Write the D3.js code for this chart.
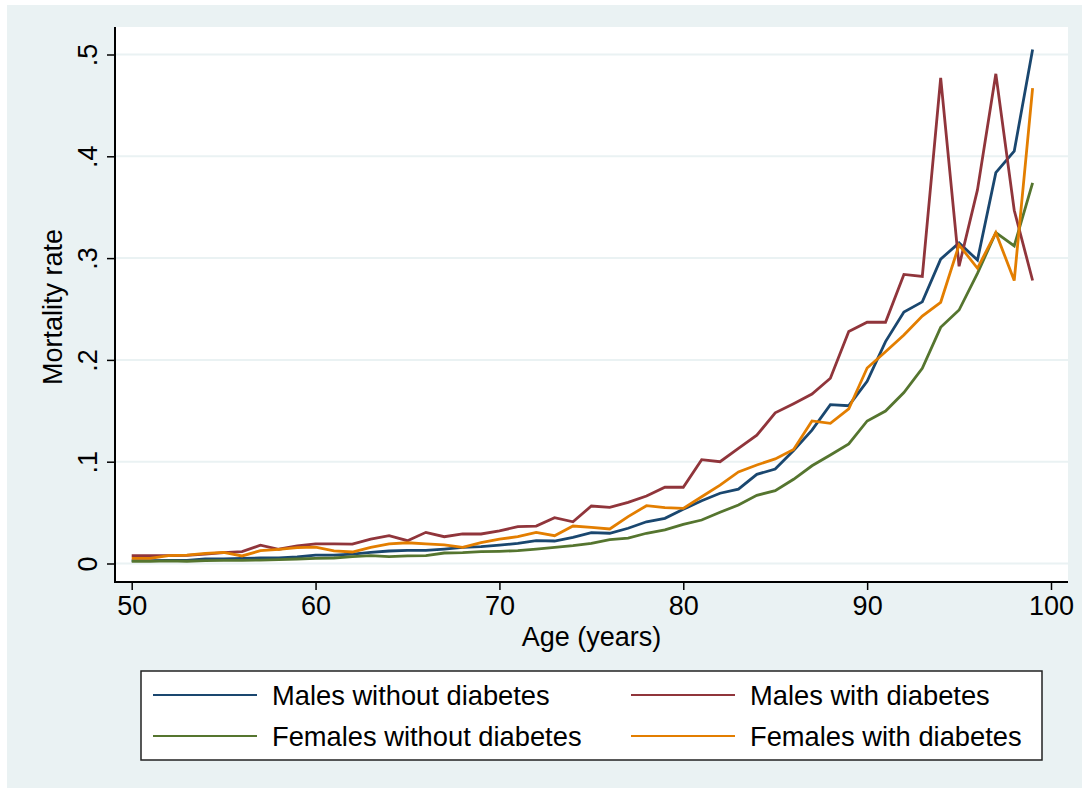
<!DOCTYPE html>
<meta charset="utf-8">
<style>
    body {
        margin: 0;
        background: #ffffff;
    }

    svg {
        font-family: "Liberation Sans", Arial, Helvetica, sans-serif;
    }
</style>
<body>
<script src="https://cdn.jsdelivr.net/npm/d3@7"></script>
<script>
    // mortality rate by age
    const ages = d3.range(50, 100);

    const malesNoDiab = [
        0.0028, 0.0028, 0.0030, 0.0031, 0.0044, 0.0046, 0.0051, 0.0054, 0.0056, 0.0064,
        0.0083, 0.0083, 0.0093, 0.0110, 0.0123, 0.0129, 0.0129, 0.0142, 0.0159, 0.0165,
        0.0180, 0.0198, 0.0224, 0.0221, 0.0257, 0.0303, 0.0297, 0.0346, 0.0410, 0.0444,
        0.0532, 0.0617, 0.0690, 0.0730, 0.0876, 0.0928, 0.1110, 0.1310, 0.1560, 0.1550,
        0.1790, 0.2180, 0.2470, 0.2570, 0.2990, 0.3150, 0.2980, 0.3840, 0.4050, 0.5050
    ];
    const malesDiab = [
        0.0077, 0.0077, 0.0078, 0.0080, 0.0093, 0.0106, 0.0116, 0.0180, 0.0140, 0.0172,
        0.0192, 0.0192, 0.0190, 0.0240, 0.0273, 0.0224, 0.0306, 0.0263, 0.0290, 0.0290,
        0.0320, 0.0362, 0.0368, 0.0450, 0.0410, 0.0565, 0.0552, 0.0600, 0.0663, 0.0749,
        0.0749, 0.1020, 0.1000, 0.1130, 0.1260, 0.1480, 0.1570, 0.1665, 0.1820, 0.2280,
        0.2370, 0.2370, 0.2840, 0.2820, 0.4770, 0.2920, 0.3670, 0.4810, 0.3470, 0.2780
    ];
    const femalesNoDiab = [
        0.0021, 0.0021, 0.0025, 0.0022, 0.0028, 0.0030, 0.0031, 0.0034, 0.0038, 0.0044,
        0.0051, 0.0054, 0.0067, 0.0077, 0.0067, 0.0074, 0.0077, 0.0103, 0.0106, 0.0116,
        0.0120, 0.0126, 0.0142, 0.0159, 0.0175, 0.0198, 0.0235, 0.0250, 0.0297, 0.0330,
        0.0385, 0.0427, 0.0503, 0.0575, 0.0670, 0.0715, 0.0827, 0.0960, 0.1066, 0.1174,
        0.1400, 0.1498, 0.1680, 0.1917, 0.2320, 0.2490, 0.2850, 0.3250, 0.3120, 0.3740
    ];
    const femalesDiab = [
        0.0051, 0.0050, 0.0077, 0.0083, 0.0100, 0.0110, 0.0074, 0.0126, 0.0139, 0.0155,
        0.0160, 0.0123, 0.0113, 0.0159, 0.0192, 0.0204, 0.0192, 0.0182, 0.0159, 0.0204,
        0.0240, 0.0263, 0.0306, 0.0273, 0.0368, 0.0355, 0.0339, 0.0460, 0.0568, 0.0548,
        0.0542, 0.0656, 0.0770, 0.0900, 0.0968, 0.1027, 0.1120, 0.1400, 0.1377, 0.1518,
        0.1920, 0.2080, 0.2245, 0.2430, 0.2566, 0.3130, 0.2900, 0.3250, 0.2780, 0.4670
    ];

    const seriesNames = ["Males without diabetes", "Males with diabetes",
                         "Females without diabetes", "Females with diabetes"];
    const seriesColors = ["#1a476f", "#90353b", "#55752f", "#e37e00"];
    const xTicks = [50, 60, 70, 80, 90, 100];
    const yTicks = [0, 0.1, 0.2, 0.3, 0.4, 0.5];
    const yTickLabels = ["0", ".1", ".2", ".3", ".4", ".5"];

    const series = [malesNoDiab, malesDiab, femalesNoDiab, femalesDiab];

    const width = 1089, height = 793;
    const bg = "#eaf2f3";
    const plot = {left: 115, right: 1068, top: 27, bottom: 582};

    const svg = d3.select("body").append("svg")
        .attr("width", width)
        .attr("height", height);

    // graph region
    svg.append("rect")
        .attr("x", 7).attr("y", 5)
        .attr("width", 1075).attr("height", 783)
        .attr("fill", bg);

    svg.append("rect")
        .attr("x", plot.left).attr("y", plot.top)
        .attr("width", plot.right - plot.left)
        .attr("height", plot.bottom - plot.top)
        .attr("fill", "white");

    const x = d3.scaleLinear().domain([50, 100]).range([131.7, 1051]);
    const y = d3.scaleLinear().domain([0, 0.5]).range([563.5, 54.5]);

    // grid
    svg.append("g").selectAll("line")
        .data(yTicks)
        .enter().append("line")
        .attr("x1", plot.left).attr("x2", plot.right)
        .attr("y1", d => y(d)).attr("y2", d => y(d))
        .attr("stroke", bg)
        .attr("stroke-width", 2);

    // lines
    const line = d3.line()
        .x((d, i) => x(ages[i]))
        .y(d => y(d));

    svg.append("g").selectAll("path")
        .data(series)
        .enter().append("path")
        .attr("d", line)
        .attr("fill", "none")
        .attr("stroke", (d, i) => seriesColors[i])
        .attr("stroke-width", 2.8)
        .attr("stroke-linejoin", "miter");

    // y axis
    const yAxis = d3.axisLeft(y)
        .tickValues(yTicks)
        .tickSize(8)
        .tickPadding(0)
        .tickFormat((d, i) => yTickLabels[i]);

    const gy = svg.append("g")
        .attr("transform", "translate(" + plot.left + ",0)")
        .call(yAxis);
    gy.select(".domain").remove();
    gy.selectAll(".tick line").attr("stroke", "black").attr("stroke-width", 1.5);
    gy.selectAll(".tick text")
        .attr("x", 0).attr("y", 0).attr("dy", 0)
        .attr("transform", "translate(-18,0) rotate(-90)")
        .style("text-anchor", "middle")
        .style("font-size", "27px")
        .attr("fill", "black");

    gy.append("line")
        .attr("x1", 0).attr("x2", 0)
        .attr("y1", plot.top).attr("y2", plot.bottom + 1)
        .attr("stroke", "black").attr("stroke-width", 2);

    svg.append("text")
        .attr("transform", "translate(62,307) rotate(-90)")
        .style("text-anchor", "middle")
        .style("font-size", "27px")
        .text("Mortality rate");

    // x axis
    const xAxis = d3.axisBottom(x)
        .tickValues(xTicks)
        .tickSize(8)
        .tickPadding(4);

    const gx = svg.append("g")
        .attr("transform", "translate(0," + plot.bottom + ")")
        .call(xAxis);
    gx.select(".domain").remove();
    gx.selectAll(".tick line").attr("stroke", "black").attr("stroke-width", 1.5);
    gx.selectAll(".tick text")
        .attr("dy", 0).attr("y", 33)
        .style("font-size", "27px")
        .attr("fill", "black");

    gx.append("line")
        .attr("x1", plot.left - 1).attr("x2", plot.right)
        .attr("y1", 0).attr("y2", 0)
        .attr("stroke", "black").attr("stroke-width", 2);

    svg.append("text")
        .attr("x", (plot.left + plot.right) / 2)
        .attr("y", 646)
        .style("text-anchor", "middle")
        .style("font-size", "27px")
        .text("Age (years)");

    // legend
    const legend = svg.append("g");
    legend.append("rect")
        .attr("x", 141).attr("y", 671)
        .attr("width", 901).attr("height", 89)
        .attr("fill", "white")
        .attr("stroke", "#222")
        .attr("stroke-width", 1.5);

    const entries = legend.selectAll(".entry")
        .data(seriesNames)
        .enter().append("g")
        .attr("class", "entry")
        .attr("transform", (d, i) => "translate(" + (i % 2 === 0 ? 153 : 631) + "," + (i < 2 ? 695 : 736) + ")");

    entries.append("line")
        .attr("x1", 0).attr("x2", 104)
        .attr("y1", 0).attr("y2", 0)
        .attr("stroke", (d, i) => seriesColors[i])
        .attr("stroke-width", 2);

    entries.append("text")
        .attr("x", 119)
        .attr("y", 9.5)
        .style("font-size", "27.3px")
        .text(d => d);
</script>
</body>
</html>
